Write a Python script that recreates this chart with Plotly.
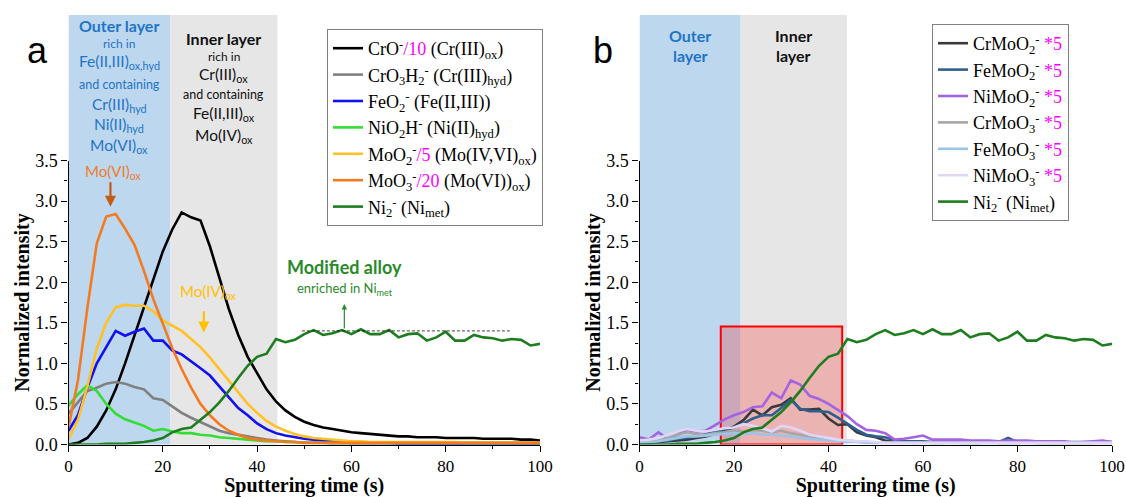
import plotly.graph_objects as go

# ---------------- data ----------------
TIME = list(range(0, 101, 2))  # sputtering time (s)

# Panel a: normalized ToF-SIMS depth profiles
CRO = [0.0, 0.02, 0.08, 0.22, 0.42, 0.68, 1.00, 1.35, 1.70, 2.05, 2.38, 2.65, 2.86, 2.80, 2.76,
       2.44, 2.06, 1.67, 1.35, 1.08, 0.88, 0.68, 0.53, 0.42, 0.34, 0.28, 0.24, 0.21, 0.19, 0.17,
       0.15, 0.14, 0.13, 0.12, 0.11, 0.10, 0.10, 0.09, 0.09, 0.09, 0.08, 0.08, 0.08, 0.08, 0.07,
       0.07, 0.07, 0.07, 0.06, 0.06, 0.05]
CRO3H2 = [0.38, 0.52, 0.66, 0.70, 0.75, 0.77, 0.75, 0.71, 0.68, 0.57, 0.55, 0.47, 0.39, 0.33, 0.28,
          0.23, 0.17, 0.14, 0.12, 0.10, 0.08, 0.06, 0.05, 0.04, 0.03, 0.02, 0.02, 0.02, 0.01, 0.01,
          0.01, 0.01, 0.01, 0.01, 0.01, 0.01, 0.01, 0.01, 0.01, 0.01, 0.01, 0.01, 0.01, 0.01, 0.01,
          0.01, 0.01, 0.01, 0.01, 0.01, 0.01]
FEO2 = [0.17, 0.36, 0.70, 1.00, 1.20, 1.40, 1.34, 1.39, 1.43, 1.28, 1.28, 1.16, 1.11, 1.03, 0.94,
        0.85, 0.72, 0.58, 0.45, 0.36, 0.26, 0.19, 0.14, 0.11, 0.09, 0.07, 0.06, 0.05, 0.04, 0.03,
        0.02, 0.02, 0.02, 0.02, 0.02, 0.01, 0.01, 0.01, 0.01, 0.01, 0.01, 0.01, 0.01, 0.01, 0.01,
        0.01, 0.01, 0.01, 0.01, 0.01, 0.01]
NIO2H = [0.48, 0.62, 0.73, 0.66, 0.50, 0.38, 0.31, 0.27, 0.23, 0.17, 0.19, 0.16, 0.14, 0.14, 0.12,
         0.11, 0.09, 0.08, 0.07, 0.06, 0.05, 0.04, 0.04, 0.03, 0.03, 0.02, 0.02, 0.02, 0.02, 0.02,
         0.02, 0.02, 0.02, 0.02, 0.02, 0.02, 0.02, 0.02, 0.02, 0.02, 0.02, 0.02, 0.02, 0.02, 0.02,
         0.02, 0.02, 0.02, 0.02, 0.02, 0.02]
MOO2 = [0.07, 0.30, 0.72, 1.18, 1.50, 1.69, 1.72, 1.71, 1.71, 1.64, 1.53, 1.46, 1.40, 1.30, 1.20,
        1.07, 0.93, 0.78, 0.64, 0.50, 0.39, 0.29, 0.22, 0.17, 0.13, 0.10, 0.08, 0.07, 0.06, 0.05,
        0.04, 0.04, 0.03, 0.03, 0.03, 0.03, 0.03, 0.03, 0.03, 0.03, 0.03, 0.03, 0.02, 0.02, 0.02,
        0.02, 0.02, 0.02, 0.02, 0.02, 0.02]
MOO3 = [0.21, 0.79, 1.68, 2.48, 2.81, 2.84, 2.66, 2.46, 2.14, 1.79, 1.49, 1.19, 0.93, 0.70, 0.50,
        0.36, 0.25, 0.17, 0.12, 0.08, 0.06, 0.05, 0.04, 0.03, 0.03, 0.02, 0.02, 0.02, 0.02, 0.02,
        0.02, 0.02, 0.02, 0.02, 0.02, 0.02, 0.02, 0.02, 0.02, 0.02, 0.02, 0.02, 0.02, 0.02, 0.02,
        0.02, 0.02, 0.02, 0.02, 0.02, 0.02]
NI2 = [0.0, 0.0, 0.0, 0.0, 0.01, 0.01, 0.01, 0.02, 0.03, 0.05, 0.08, 0.15, 0.19, 0.21, 0.31,
       0.40, 0.52, 0.66, 0.82, 0.97, 1.08, 1.12, 1.30, 1.26, 1.29, 1.36, 1.41, 1.35, 1.37, 1.41,
       1.36, 1.42, 1.36, 1.36, 1.41, 1.32, 1.36, 1.37, 1.28, 1.32, 1.39, 1.28, 1.28, 1.35, 1.32,
       1.31, 1.28, 1.30, 1.29, 1.22, 1.24]

# Panel b: mixed Mo-containing fragments (x5)
CRMOO2 = [0.02, 0.02, 0.03, 0.04, 0.05, 0.06, 0.08, 0.10, 0.13, 0.18, 0.22, 0.30, 0.43, 0.36, 0.46,
          0.49, 0.57, 0.43, 0.43, 0.44, 0.32, 0.24, 0.25, 0.15, 0.11, 0.09, 0.05, 0.03, 0.03, 0.02,
          0.03, 0.02, 0.02, 0.03, 0.02, 0.02, 0.02, 0.03, 0.02, 0.02, 0.02, 0.03, 0.02, 0.02, 0.02,
          0.02, 0.02, 0.02, 0.02, 0.03, 0.02]
FEMOO2 = [0.02, 0.03, 0.04, 0.05, 0.07, 0.08, 0.10, 0.13, 0.16, 0.18, 0.21, 0.26, 0.32, 0.36, 0.36,
          0.45, 0.55, 0.44, 0.41, 0.41, 0.40, 0.33, 0.25, 0.18, 0.12, 0.10, 0.09, 0.05, 0.04, 0.04,
          0.04, 0.03, 0.03, 0.03, 0.03, 0.03, 0.03, 0.03, 0.03, 0.08, 0.03, 0.03, 0.03, 0.03, 0.03,
          0.03, 0.03, 0.03, 0.03, 0.04, 0.03]
NIMOO2 = [0.09, 0.06, 0.15, 0.07, 0.12, 0.18, 0.16, 0.17, 0.24, 0.31, 0.36, 0.40, 0.46, 0.47, 0.64,
          0.57, 0.79, 0.74, 0.60, 0.56, 0.50, 0.43, 0.35, 0.25, 0.18, 0.17, 0.14, 0.06, 0.07, 0.09,
          0.11, 0.06, 0.06, 0.06, 0.06, 0.05, 0.05, 0.05, 0.04, 0.05, 0.05, 0.05, 0.04, 0.04, 0.04,
          0.04, 0.02, 0.03, 0.04, 0.05, 0.03]
CRMOO3 = [0.03, 0.04, 0.05, 0.08, 0.12, 0.15, 0.13, 0.12, 0.14, 0.15, 0.17, 0.16, 0.18, 0.17, 0.15,
          0.17, 0.14, 0.12, 0.10, 0.08, 0.07, 0.05, 0.05, 0.04, 0.03, 0.02, 0.02, 0.02, 0.02, 0.02,
          0.02, 0.02, 0.02, 0.02, 0.02, 0.02, 0.02, 0.02, 0.02, 0.02, 0.02, 0.02, 0.02, 0.02, 0.02,
          0.02, 0.02, 0.02, 0.02, 0.02, 0.02]
FEMOO3 = [0.02, 0.03, 0.04, 0.06, 0.08, 0.10, 0.10, 0.11, 0.12, 0.13, 0.14, 0.13, 0.14, 0.12, 0.12,
          0.11, 0.10, 0.08, 0.07, 0.06, 0.05, 0.04, 0.03, 0.03, 0.02, 0.02, 0.02, 0.02, 0.02, 0.02,
          0.02, 0.02, 0.02, 0.02, 0.02, 0.02, 0.02, 0.02, 0.02, 0.02, 0.02, 0.02, 0.02, 0.02, 0.02,
          0.02, 0.02, 0.02, 0.02, 0.02, 0.02]
NIMOO3 = [0.05, 0.06, 0.08, 0.12, 0.16, 0.19, 0.17, 0.16, 0.18, 0.20, 0.21, 0.25, 0.23, 0.20, 0.16,
          0.23, 0.21, 0.17, 0.12, 0.10, 0.08, 0.06, 0.05, 0.04, 0.04, 0.03, 0.02, 0.02, 0.02, 0.02,
          0.02, 0.02, 0.02, 0.02, 0.02, 0.02, 0.02, 0.02, 0.02, 0.02, 0.02, 0.02, 0.02, 0.02, 0.02,
          0.02, 0.02, 0.02, 0.02, 0.02, 0.02]

# layer boundaries (s) and level of the enriched Ni plateau
OUTER_END_A, INNER_END_A = 21.6, 44.3
OUTER_END_B, INNER_END_B = 21.4, 43.9
NI_PLATEAU = 1.40
HIGHLIGHT = (17.2, 42.9, 1.455)

MAG = "#ff00ff"
SERIF = "Liberation Serif"
SANS = "Lato"

LEGEND_A = [
    (f"CrO<sup>-</sup><span style='color:{MAG}'>/10</span> (Cr(III)<sub>ox</sub>)", CRO, "#000000"),
    ("CrO<sub>3</sub>H<sub>2</sub><sup>-</sup> (Cr(III)<sub>hyd</sub>)", CRO3H2, "#808080"),
    ("FeO<sub>2</sub><sup>-</sup> (Fe(II,III))", FEO2, "#1010f0"),
    ("NiO<sub>2</sub>H<sup>-</sup> (Ni(II)<sub>hyd</sub>)", NIO2H, "#33dd33"),
    (f"MoO<sub>2</sub><sup>-</sup><span style='color:{MAG}'>/5</span> (Mo(IV,VI)<sub>ox</sub>)", MOO2, "#ffc125"),
    (f"MoO<sub>3</sub><sup>-</sup><span style='color:{MAG}'>/20</span> (Mo(VI))<sub>ox</sub>)", MOO3, "#f47a1f"),
    ("Ni<sub>2</sub><sup>-</sup> (Ni<sub>met</sub>)", NI2, "#1e7d1e"),
]
LEGEND_B = [
    (f"CrMoO<sub>2</sub><sup>-</sup> <span style='color:{MAG}'>*5</span>", CRMOO2, "#3a3a3a"),
    (f"FeMoO<sub>2</sub><sup>-</sup> <span style='color:{MAG}'>*5</span>", FEMOO2, "#2f5f8f"),
    (f"NiMoO<sub>2</sub><sup>-</sup> <span style='color:{MAG}'>*5</span>", NIMOO2, "#a463e0"),
    (f"CrMoO<sub>3</sub><sup>-</sup> <span style='color:{MAG}'>*5</span>", CRMOO3, "#a6a6a6"),
    (f"FeMoO<sub>3</sub><sup>-</sup> <span style='color:{MAG}'>*5</span>", FEMOO3, "#9dc3e6"),
    (f"NiMoO<sub>3</sub><sup>-</sup> <span style='color:{MAG}'>*5</span>", NIMOO3, "#e2d6f6"),
    ("Ni<sub>2</sub><sup>-</sup> (Ni<sub>met</sub>)", NI2, "#1e7d1e"),
]

W, H = 1126, 497
def px_x(p):
    return p / W
def px_y(p):
    return 1 - p / H

fig = go.Figure()

for name, vals, col in LEGEND_A:
    fig.add_trace(go.Scatter(x=TIME, y=vals, name=name, mode="lines",
                             line=dict(color=col, width=2.6), xaxis="x", yaxis="y",
                             legend="legend"))
for name, vals, col in LEGEND_B:
    fig.add_trace(go.Scatter(x=TIME, y=vals, name=name, mode="lines",
                             line=dict(color=col, width=2.6), xaxis="x2", yaxis="y2",
                             legend="legend2"))

Y_DOM = [px_y(444.5), px_y(160.5)]
BLUE_BG = "#bdd7ee"
GREY_BG = "#e7e6e6"
TOP = px_y(15)

shapes = []
for xr, o_end, i_end in (("x", OUTER_END_A, INNER_END_A), ("x2", OUTER_END_B, INNER_END_B)):
    shapes.append(dict(type="rect", xref=xr, yref="paper", x0=0, x1=o_end, y0=Y_DOM[0], y1=TOP,
                       fillcolor=BLUE_BG, line=dict(width=0), layer="below"))
    shapes.append(dict(type="rect", xref=xr, yref="paper", x0=o_end, x1=i_end, y0=Y_DOM[0], y1=TOP,
                       fillcolor=GREY_BG, line=dict(width=0), layer="below"))

# Ni plateau reference line
shapes.append(dict(type="line", xref="x", yref="y", x0=49.5, x1=94, y0=NI_PLATEAU, y1=NI_PLATEAU,
                   line=dict(color="#111111", width=0.8, dash="3px,2px")))
# highlighted zone in panel b
shapes.append(dict(type="rect", xref="x2", yref="y2", x0=HIGHLIGHT[0], x1=HIGHLIGHT[1],
                   y0=0, y1=HIGHLIGHT[2], fillcolor="rgba(255,0,0,0.22)",
                   line=dict(color="#ff0000", width=2), layer="below"))

BLUE_TXT = "#1f74c8"
ann = []

def txt(x, ypix, text, size, color, xref="x", bold=False, family=SANS):
    if bold:
        text = f"<b>{text}</b>"
    ann.append(dict(x=x, y=px_y(ypix), xref=xref, yref="paper", text=text, showarrow=False,
                    font=dict(family=family, size=size, color=color),
                    xanchor="center", yanchor="middle"))

ca = OUTER_END_A / 2
cb = (OUTER_END_A + INNER_END_A) / 2
txt(ca, 25, "Outer layer", 16, BLUE_TXT, bold=True)
txt(ca, 43, "rich in", 12, BLUE_TXT)
txt(ca, 62, "Fe(II,III)<sub>ox,hyd</sub>", 15.5, BLUE_TXT)
txt(ca, 84, "and containing", 12.5, BLUE_TXT)
txt(ca, 105, "Cr(III)<sub>hyd</sub>", 15.5, BLUE_TXT)
txt(ca, 125, "Ni(II)<sub>hyd</sub>", 15.5, BLUE_TXT)
txt(ca, 146, "Mo(VI)<sub>ox</sub>", 15.5, BLUE_TXT)

txt(cb, 39, "Inner layer", 16, "#111111", bold=True)
txt(cb, 57, "rich in", 12, "#111111")
txt(cb, 75, "Cr(III)<sub>ox</sub>", 15.5, "#111111")
txt(cb, 94, "and containing", 12.5, "#111111")
txt(cb, 114, "Fe(II,III)<sub>ox</sub>", 15.5, "#111111")
txt(cb, 136, "Mo(IV)<sub>ox</sub>", 15.5, "#111111")

cb1 = OUTER_END_B / 2
cb2 = (OUTER_END_B + INNER_END_B) / 2
txt(cb1, 35, "Outer", 16, BLUE_TXT, xref="x2", bold=True)
txt(cb1, 56, "layer", 16, BLUE_TXT, xref="x2", bold=True)
txt(cb2, 35, "Inner", 16, "#111111", xref="x2", bold=True)
txt(cb2, 56, "layer", 16, "#111111", xref="x2", bold=True)

# panel letters
for xp, letter in ((37, "a"), (603, "b")):
    ann.append(dict(x=px_x(xp), y=px_y(50), xref="paper", yref="paper", text=letter,
                    showarrow=False, font=dict(family="Liberation Sans", size=36, color="black"),
                    xanchor="center", yanchor="middle"))

# peak markers
ann.append(dict(x=9.5, y=3.36, xref="x", yref="y", text="Mo(VI)<sub>ox</sub>", showarrow=False,
                font=dict(family=SANS, size=15, color="#ed7d31"), xanchor="center", yanchor="middle"))
ann.append(dict(x=8.9, y=2.93, ax=8.9, ay=3.25, xref="x", yref="y", axref="x", ayref="y",
                text="", showarrow=True, arrowhead=2, arrowsize=1, arrowwidth=2.2,
                arrowcolor="#c55a11"))
ann.append(dict(x=29.5, y=1.88, xref="x", yref="y", text="Mo(IV)<sub>ox</sub>", showarrow=False,
                font=dict(family=SANS, size=15, color="#ffc000"), xanchor="center", yanchor="middle"))
ann.append(dict(x=28.7, y=1.38, ax=28.7, ay=1.66, xref="x", yref="y", axref="x", ayref="y",
                text="", showarrow=True, arrowhead=2, arrowsize=1, arrowwidth=2.2,
                arrowcolor="#ffc000"))
ann.append(dict(x=58.6, y=2.19, xref="x", yref="y", text="<b>Modified alloy</b>", showarrow=False,
                font=dict(family=SANS, size=18, color="#2a8a2a"), xanchor="center", yanchor="middle"))
ann.append(dict(x=58.6, y=1.92, xref="x", yref="y", text="enriched in Ni<sub>met</sub>",
                showarrow=False, font=dict(family=SANS, size=13, color="#2a8a2a"),
                xanchor="center", yanchor="middle"))
ann.append(dict(x=58.5, y=1.73, ax=58.5, ay=1.41, xref="x", yref="y", axref="x", ayref="y",
                text="", showarrow=True, arrowhead=2, arrowsize=0.9, arrowwidth=1.2,
                arrowcolor="#2a8a2a"))

def xaxis(domain, anchor):
    return dict(domain=domain, anchor=anchor, range=[0, 100], tickvals=[0, 20, 40, 60, 80, 100],
                ticks="outside", ticklen=6, tickwidth=1.2, tickcolor="black",
                minor=dict(dtick=10, tick0=0, ticks="outside", ticklen=3, tickcolor="black"),
                showline=True, linecolor="black", linewidth=1.3, showgrid=False, zeroline=False,
                tickfont=dict(family=SERIF, size=17, color="black"),
                title=dict(text="<b>Sputtering time (s)</b>", standoff=7,
                           font=dict(family=SERIF, size=20, color="black")),
                automargin=False)

def yaxis(anchor):
    return dict(domain=Y_DOM, anchor=anchor, range=[0, 3.5],
                tickvals=[0, 0.5, 1.0, 1.5, 2.0, 2.5, 3.0, 3.5], tickformat=".1f",
                ticks="outside", ticklen=6, tickwidth=1.2, tickcolor="black",
                minor=dict(dtick=0.25, tick0=0, ticks="outside", ticklen=3, tickcolor="black"),
                showline=True, linecolor="black", linewidth=1.3, showgrid=False, zeroline=False,
                tickfont=dict(family=SERIF, size=18, color="black"),
                title=dict(text="<b>Normalized intensity</b>", standoff=0,
                           font=dict(family=SERIF, size=20, color="black")),
                automargin=False)

legend_common = dict(font=dict(family=SERIF, size=18, color="black"), bgcolor="white",
                     bordercolor="#808080", borderwidth=1, xanchor="left", yanchor="top",
                     itemwidth=30, tracegroupgap=0)

fig.update_layout(
    width=W, height=H,
    margin=dict(l=0, r=0, t=0, b=0),
    paper_bgcolor="white", plot_bgcolor="rgba(0,0,0,0)",
    xaxis=xaxis([px_x(68.5), px_x(540)], "y"),
    yaxis=yaxis("x"),
    xaxis2=xaxis([px_x(639.5), px_x(1112)], "y2"),
    yaxis2=yaxis("x2"),
    shapes=shapes,
    annotations=ann,
    showlegend=True,
    legend=dict(x=px_x(327), y=px_y(29), **legend_common),
    legend2=dict(x=px_x(932), y=px_y(24), **legend_common),
)

fig.write_html("out.html")
